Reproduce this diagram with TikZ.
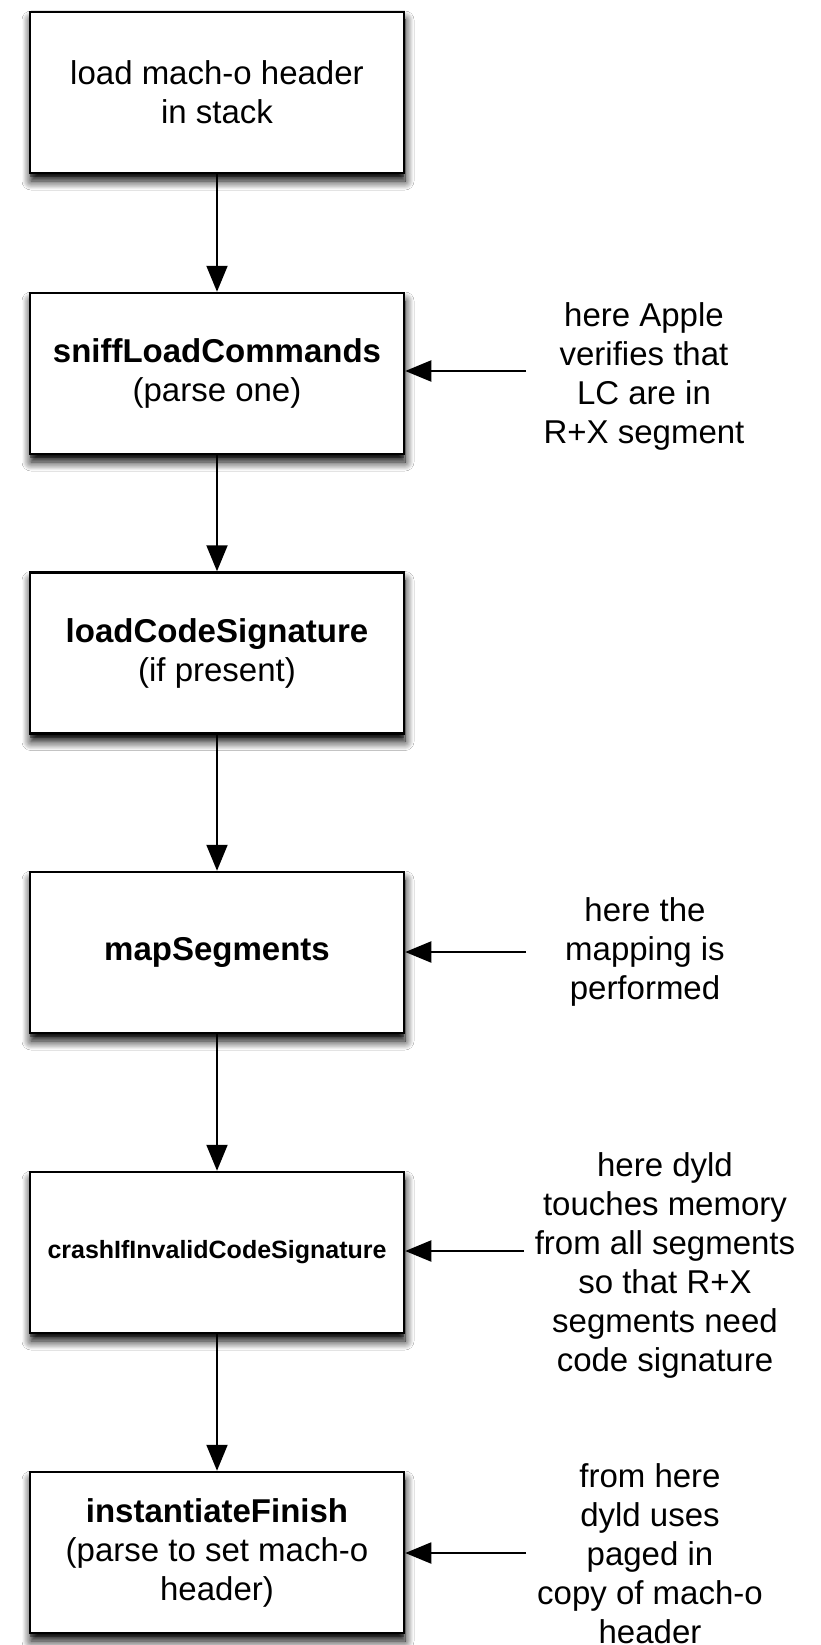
\documentclass[tikz,border=0pt]{standalone}
\usepackage{fontspec}
\setmainfont{Liberation Sans}
\usetikzlibrary{arrows.meta,shadows,shadows.blur}
\begin{document}
\begin{tikzpicture}[x=1pt,y=-1pt,
  box/.style={draw, line width=2.5pt, fill=white, minimum width=374pt, minimum height=161pt,
    align=center, inner sep=0pt, font=\fontsize{33}{39}\selectfont,
    blur shadow={shadow xshift=1pt, shadow yshift=-8pt, shadow blur radius=9pt, shadow opacity=100, shadow blur steps=12},
    drop shadow={shadow xshift=0pt, shadow yshift=-4pt, opacity=.35, fill=black}},
  note/.style={align=center, inner sep=0pt, font=\fontsize{33}{39}\selectfont},
  arr/.style={line width=2pt, -{Triangle[length=26pt,width=21pt]}}
]
\useasboundingbox[fill=white] (0,0) rectangle (820,1645);

\node[box] (b1) at (217,92.5) {load mach-o header\\in stack};
\node[box] (b2) at (217,373.5) {\textbf{sniffLoadCommands}\\(parse one)};
\node[box] (b3) at (217,653) {\textbf{loadCodeSignature}\\(if present)};
\node[box] (b4) at (217,952.5) {\textbf{mapSegments}};
\node[box] (b5) at (217,1252.5) {\fontsize{25}{30}\selectfont\textbf{crashIfInvalidCodeSignature}};
\node[box] (b6) at (217,1552.5) {\textbf{instantiateFinish}\\(parse to set mach-o\\header)};

\node[note] (t1) at (644,376) {here Apple\\verifies that\\LC are in\\R+X segment};
\node[note] (t2) at (645,952) {here the\\mapping is\\performed};
\node[note] (t3) at (665,1265) {here dyld\\touches memory\\from all segments\\so that R+X\\segments need\\code signature};
\node[note] (t4) at (650,1554) {from here\\dyld uses\\paged in\\copy of mach-o\\header};

\coordinate (c1) at (526,371);
\coordinate (c2) at (526,952);
\coordinate (c3) at (524,1251);
\coordinate (c4) at (526,1553);

\draw[arr] (b1) -- (b2);
\draw[arr] (b2) -- (b3);
\draw[arr] (b3) -- (b4);
\draw[arr] (b4) -- (b5);
\draw[arr] (b5) -- (b6);

\draw[arr] (c1) -- (c1 -| b2.east);
\draw[arr] (c2) -- (c2 -| b4.east);
\draw[arr] (c3) -- (c3 -| b5.east);
\draw[arr] (c4) -- (c4 -| b6.east);
\end{tikzpicture}
\end{document}
